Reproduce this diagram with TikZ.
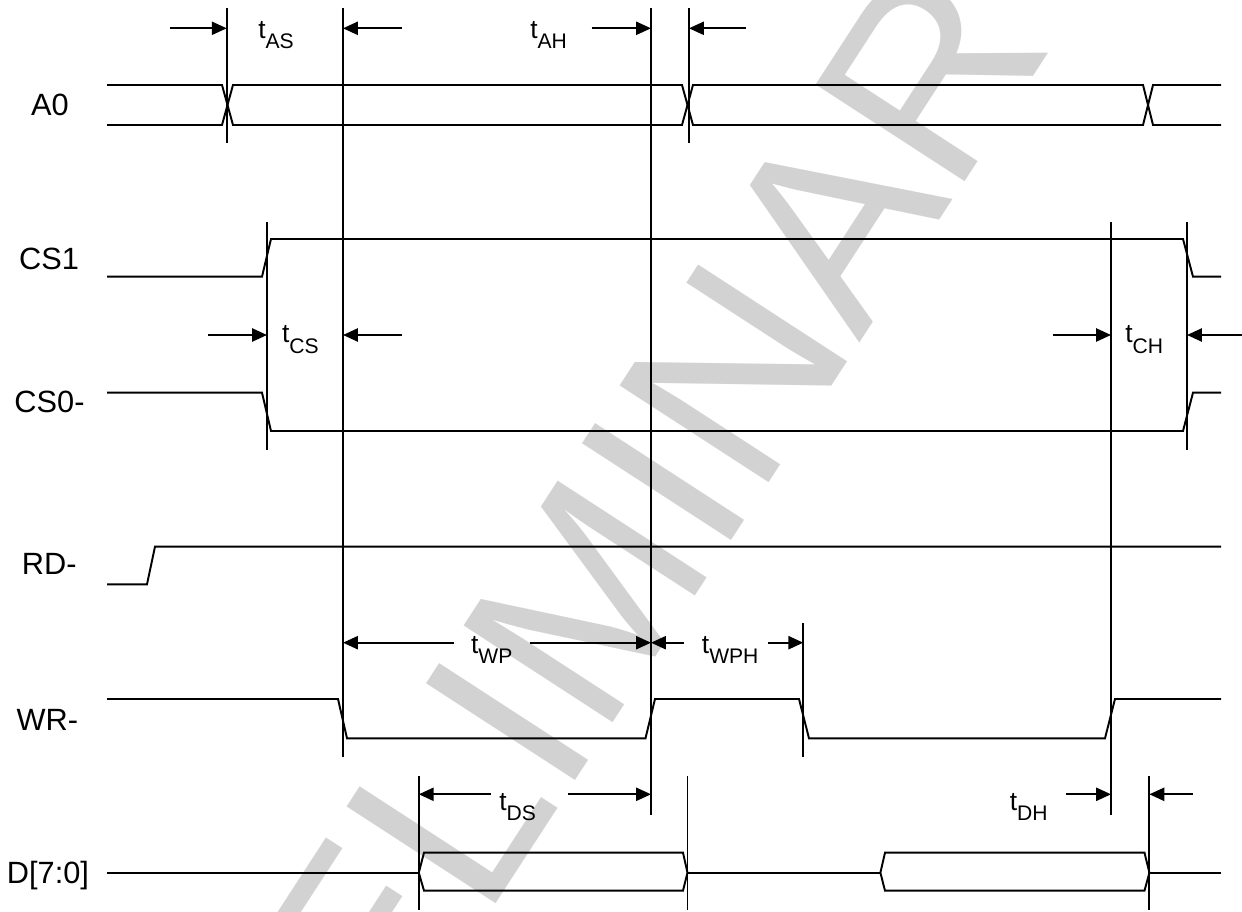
\documentclass[tikz,border=0pt]{standalone}
\usepackage{fontspec}
\setmainfont{Liberation Sans}
\usetikzlibrary{arrows.meta}
\newcommand{\tmg}[1]{t{\fontsize{12}{12}\selectfont\raisebox{-6pt}{#1}}}
\begin{document}
\begin{tikzpicture}[x=0.02cm,y=-0.02cm,
  sig/.style={line width=1.1pt, line join=miter},
  tick/.style={line width=1.1pt},
  dim/.style={line width=1.1pt,-{Triangle[length=8.5pt,width=7.5pt]}},
  lbl/.style={font=\fontsize{17.5}{17.5}\selectfont, inner sep=0pt, anchor=base},
  tl/.style={font=\fontsize{15}{15}\selectfont, inner sep=0pt, anchor=base west},
  wmark/.style={text=gray!35, font=\fontsize{147}{147}\selectfont, inner sep=0pt}]
\useasboundingbox (0,0) rectangle (1242,912);
% watermark
\begin{scope}
\clip (0,0) rectangle (1242,912);
\node[wmark, rotate=57] (wm) at (596,586) {PRELIMINARY};
\end{scope}
% labels
\node[lbl] (lA0) at (50,116) {A0};
\node[lbl] (lCS1) at (49,269.5) {CS1};
\node[lbl] (lCS0) at (49.5,413) {CS0-};
\node[lbl] (lRD) at (49.3,574) {RD-};
\node[lbl] (lWR) at (47.3,730.5) {WR-};
\node[lbl] (lD) at (48,883.5) {D[7:0]};
% signals
\draw[sig] (107,85) -- (222,85) -- (233,125) -- (682,125) -- (693,85) -- (1143,85) -- (1153,125) -- (1221,125);
\draw[sig] (107,125) -- (222,125) -- (233,85) -- (682,85) -- (693,125) -- (1143,125) -- (1153,85) -- (1221,85);
\draw[sig] (107,276.7) -- (262,276.7) -- (271,239) -- (1183,239) -- (1193,276.7) -- (1221,276.7);
\draw[sig] (107,392.7) -- (262,392.7) -- (271,431) -- (1183,431) -- (1193,392.7) -- (1221,392.7);
\draw[sig] (107,584.3) -- (147,584.3) -- (155,546.7) -- (1221,546.7);
\draw[sig] (107,699) -- (338,699) -- (347,738.3) -- (645.5,738.3) -- (655,699) -- (799,699) -- (809,738.3) -- (1105,738.3) -- (1115,699) -- (1221,699);
\draw[sig] (107,872.7) -- (418.8,872.7);
\draw[sig] (418.8,872.7) -- (424,852.7) -- (683,852.7) -- (687.5,872.7) -- (683,890.7) -- (424,890.7) -- cycle;
\draw[sig] (687.5,872.7) -- (880.4,872.7);
\draw[sig] (880.4,872.7) -- (885,852.7) -- (1144.5,852.7) -- (1149.4,872.7) -- (1144.5,890.7) -- (885,890.7) -- cycle;
\draw[sig] (1149.4,872.7) -- (1221,872.7);
% reference lines
\coordinate (v1t) at (226.7,8);   \coordinate (v1b) at (226.7,143);
\coordinate (v2t) at (343,8);     \coordinate (v2b) at (343,756.7);
\coordinate (v3t) at (651,8);     \coordinate (v3b) at (651,815);
\coordinate (v4t) at (689,8);     \coordinate (v4b) at (689,143);
\coordinate (v5t) at (267,222);   \coordinate (v5b) at (267,450);
\coordinate (v6t) at (1111,222);  \coordinate (v6b) at (1111,815);
\coordinate (v7t) at (1187,222);  \coordinate (v7b) at (1187,450);
\coordinate (v8t) at (803.3,623); \coordinate (v8b) at (803.3,757);
\coordinate (v9t) at (418.8,776); \coordinate (v9b) at (418.8,910);
\coordinate (v10t) at (687.5,776); \coordinate (v10b) at (687.5,910);
\coordinate (v11t) at (1149.4,776); \coordinate (v11b) at (1149.4,910);
\foreach \i in {1,...,11} {\draw[tick] (v\i t) -- (v\i b);}
% dimension arrows
\draw[dim] (170,28.3) -- (226.7,28.3);
\draw[dim] (401.7,28.3) -- (343,28.3);
\draw[dim] (591.7,28.3) -- (651,28.3);
\draw[dim] (745.7,28.3) -- (689,28.3);
\draw[dim] (208.3,335) -- (267,335);
\draw[dim] (401.7,335) -- (343,335);
\draw[dim] (1052.7,335) -- (1111,335);
\draw[dim] (1242,335) -- (1187,335);
\draw[dim] (454.3,642.7) -- (343,642.7);
\draw[dim] (529.7,642.7) -- (651,642.7);
\draw[dim] (684,642.7) -- (651,642.7);
\draw[dim] (768.3,642.7) -- (803.3,642.7);
\draw[dim] (491,794.3) -- (418.8,794.3);
\draw[dim] (568,794.3) -- (651,794.3);
\draw[dim] (1066.4,794.3) -- (1111,794.3);
\draw[dim] (1192.6,794.3) -- (1149.4,794.3);
% timing labels
\node[tl] (tAS) at (258,38.3) {\tmg{AS}};
\node[tl] (tAH) at (530,38.3) {\tmg{AH}};
\node[tl] (tCS) at (281.7,343) {\tmg{CS}};
\node[tl] (tCH) at (1125,343) {\tmg{CH}};
\node[tl] (tWP) at (470.8,653) {\tmg{WP}};
\node[tl] (tWPH) at (701.6,653) {\tmg{WPH}};
\node[tl] (tDS) at (499,810) {\tmg{DS}};
\node[tl] (tDH) at (1009.4,810) {\tmg{DH}};
\end{tikzpicture}
\end{document}
